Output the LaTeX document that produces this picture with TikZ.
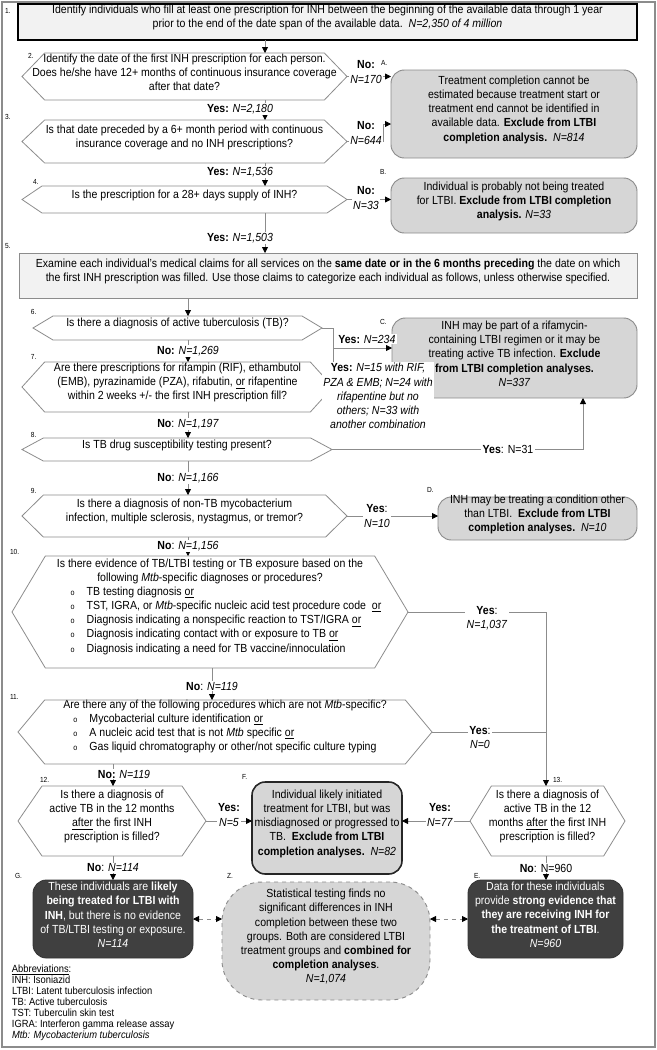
\documentclass[tikz,border=0pt]{standalone}
\usepackage{fontspec}
\setmainfont{Liberation Sans}[FakeStretch=0.9]
\usetikzlibrary{arrows.meta,fit,calc}
\definecolor{lineg}{HTML}{8C8C8C}
\definecolor{boxg}{HTML}{D6D6D6}
\definecolor{lightg}{HTML}{F2F2F2}
\definecolor{darkg}{HTML}{404040}
\newcommand\hexdraw[2]{\draw[hexline] (#1.west) -- ([xshift=#2]#1.north west) -- ([xshift=-#2]#1.north east) -- (#1.east) -- ([xshift=-#2]#1.south east) -- ([xshift=#2]#1.south west) -- cycle;}
\newcommand\bul{{\fontsize{6}{7}\selectfont o}}
\tikzset{
 every node/.style={font=\fontsize{8.8}{10.6}\selectfont, inner sep=0pt, outer sep=0pt},
 hexn/.style={align=center},
 hexline/.style={draw=lineg, line width=0.6pt},
 topbox/.style={draw=black, line width=1.1pt, fill=lightg, align=center},
 flatbox/.style={draw=lineg, line width=0.6pt, fill=lightg, align=center},
 exbox/.style={draw=lineg, line width=0.7pt, fill=boxg, rounded corners=10pt, align=center},
 fbox/.style={draw=black!85, line width=1.2pt, fill=boxg, rounded corners=10pt, align=center},
 darkbox/.style={draw=black!80, line width=0.6pt, fill=darkg, text=white, rounded corners=10pt, align=center},
 zbox/.style={draw=lineg, dashed, line width=0.7pt, fill=boxg, rounded corners=30pt, align=center},
 conn/.style={draw=lineg, line width=0.6pt, -{Triangle[black, length=4.5pt, width=4.5pt]}},
 plain/.style={draw=lineg, line width=0.6pt},
 dconn/.style={draw=lineg, dashed, line width=0.6pt, {Triangle[black, length=4.5pt, width=4.5pt]}-{Triangle[black, length=4.5pt, width=4.5pt]}},
 lbl/.style={fill=white, align=center, inner sep=1pt},
 num/.style={font=\fontsize{5.5}{6}\selectfont, anchor=west},
 abbr/.style={align=left, anchor=north west, font=\fontsize{7.8}{8.2}\selectfont},
}
\begin{document}
\begin{tikzpicture}[x=0.75pt,y=-0.75pt]
\useasboundingbox (0,0) rectangle (657,1050);
\draw[lineg, line width=0.8pt] (2,2) rectangle (655,1047);
% column coordinates
\coordinate (xa) at (265,0);
\coordinate (xb) at (188,0);
\coordinate (xc) at (212,0);
\coordinate (xd) at (113,0);
\coordinate (xr) at (546,0);
\coordinate (cx) at (583,0);
% 1
\node[num] at (5,11) {1.};
\node[topbox, fit={(18,4)(637,40)}] (b1) {Identify individuals who fill at least one prescription for INH between the beginning of the available data through 1 year\\prior to the end of the date span of the available data.~~\textit{N=2,350 of 4 million}};
% 2
\node[num] at (28,56) {2.};
\node[hexn, fit={(22,53)(347,100)}] (h2) {Identify the date of the first INH prescription for each person.\\Does he/she have 12+ months of continuous insurance coverage\\after that date?};
\hexdraw{h2}{17pt}
% A
\node[exbox, fit={(391,70)(637,158)}] (A) {Treatment completion cannot be\\estimated because treatment start or\\treatment end cannot be identified in\\available data. \textbf{Exclude from LTBI}\\\textbf{completion analysis.}~~\textit{N=814}};
% 3
\node[num] at (5,117) {3.};
\node[hexn, fit={(22,120)(347,163)}] (h3) {Is that date preceded by a 6+ month period with continuous\\insurance coverage and no INH prescriptions?};
\hexdraw{h3}{17pt}
% 4
\node[num] at (33,182) {4.};
\node[hexn, fit={(22,186)(347,213)}] (h4) {Is the prescription for a 28+ days supply of INH?};
\hexdraw{h4}{15pt}
% B
\node[num] at (380,172) {B.};
\node[exbox, fit={(391,178)(637,233)}] (B) {Individual is probably not being treated\\for LTBI. \textbf{Exclude from LTBI completion}\\\textbf{analysis.} \textit{N=33}};
% 5
\node[num] at (5,246) {5.};
\node[flatbox, fit={(19,253)(637,298)}] (b5) {Examine each individual's medical claims for all services on the \textbf{same date or in the 6 months preceding} the date on which\\the first INH prescription was filled. Use those claims to categorize each individual as follows, unless otherwise specified.};
% 6
\node[num] at (31,312) {6.};
\node[hexn, fit={(33,316)(322,340)}] (h6) {Is there a diagnosis of active tuberculosis (TB)?};
\hexdraw{h6}{15pt}
% C
\node[num] at (380,322) {C.};
\node[exbox, fit={(392,318)(637,398)}] (C) {INH may be part of a rifamycin-\\containing LTBI regimen or it may be\\treating active TB infection. \textbf{Exclude}\\\textbf{from LTBI completion analyses.}\\\textit{N=337}};
% 7
\node[num] at (31,357) {7.};
\node[hexn, fit={(22,362)(333,412)}] (h7) {Are there prescriptions for rifampin (RIF), ethambutol\\(EMB), pyrazinamide (PZA), rifabutin, \underline{or} rifapentine\\within 2 weeks +/- the first INH prescription fill?};
\hexdraw{h7}{17pt}
% 8
\node[num] at (31,435) {8.};
\node[hexn, fit={(22,438)(332,461)}] (h8) {Is TB drug susceptibility testing present?};
\hexdraw{h8}{16pt}
% 9
\node[num] at (31,491) {9.};
\node[hexn, fit={(22,495)(347,537)}] (h9) {Is there a diagnosis of non-TB mycobacterium\\infection, multiple sclerosis, nystagmus, or tremor?};
\hexdraw{h9}{16pt}
% D
\node[num] at (427,490) {D.};
\node[exbox, fit={(438,497)(637,540)}] (D) {INH may be treating a condition other\\than LTBI.~~\textbf{Exclude from LTBI}\\\textbf{completion analyses.}~~\textit{N=10}};
% 10
\node[num] at (10,552) {10.};
\node[hexn, fit={(12,556)(408,668)}] (h10) {Is there evidence of TB/LTBI testing or TB exposure based on the\\following \textit{Mtb}-specific diagnoses or procedures?\\\hspace*{24pt}\begin{tabular}{@{}l@{\hspace{9pt}}l@{}}
\bul&TB testing diagnosis \underline{or}\\
\bul&TST, IGRA, or \textit{Mtb}-specific nucleic acid test procedure code~~\underline{or}\\
\bul&Diagnosis indicating a nonspecific reaction to TST/IGRA \underline{or}\\
\bul&Diagnosis indicating contact with or exposure to TB \underline{or}\\
\bul&Diagnosis indicating a need for TB vaccine/innoculation
\end{tabular}};
\hexdraw{h10}{25pt}
% 11
\node[num] at (10,697) {11.};
\node[hexn, fit={(18,700)(432,764)}] (h11) {Are there any of the following procedures which are not \textit{Mtb}-specific?\\\begin{tabular}{@{}l@{\hspace{9pt}}l@{}}
\bul&Mycobacterial culture identification \underline{or}\\
\bul&A nucleic acid test that is not \textit{Mtb} specific \underline{or}\\
\bul&Gas liquid chromatography or other/not specific culture typing
\end{tabular}};
\hexdraw{h11}{20pt}
% 12
\node[num] at (40,780) {12.};
\node[hexn, fit={(18,786)(206,856)}] (h12) {Is there a diagnosis of\\active TB in the 12 months\\\underline{after} the first INH\\prescription is filled?};
\hexdraw{h12}{18pt}
% F
\node[num] at (242,777) {F.};
\node[fbox, fit={(252,782)(402,874)}] (F) {Individual likely initiated\\treatment for LTBI, but was\\misdiagnosed or progressed to\\TB.~~\textbf{Exclude from LTBI}\\\textbf{completion analyses.}~~\textit{N=82}};
% 13
\node[num] at (553,780) {13.};
\node[hexn, fit={(470,786)(625,856)}] (h13) {Is there a diagnosis of\\active TB in the 12\\months \underline{after} the first INH\\prescription is filled?};
\hexdraw{h13}{16pt}
% G, Z, E
\node[num] at (15,876) {G.};
\node[darkbox, fit={(33,880)(193,958)}] (G) {These individuals are \textbf{likely}\\\textbf{being treated for LTBI with}\\\textbf{INH}, but there is no evidence\\of TB/LTBI testing or exposure.\\\textit{N=114}};
\node[num] at (227,876) {Z.};
\node[zbox, fit={(222,882)(430,1000)}] (Z) {Statistical testing finds no\\significant differences in INH\\completion between these two\\groups. Both are considered LTBI\\treatment groups and \textbf{combined for}\\\textbf{completion analyses}.\\\textit{N=1,074}};
\node[num] at (474,876) {E.};
\node[darkbox, fit={(468,880)(623,958)}] (E) {Data for these individuals\\provide \textbf{strong evidence that}\\\textbf{they are receiving INH for}\\\textbf{the treatment of LTBI}.\\\textit{N=960}};
% abbreviations
\node[abbr] (ab) at (12,965) {\underline{Abbreviations}:\\INH: Isoniazid\\LTBI: Latent tuberculosis infection\\TB: Active tuberculosis\\TST: Tuberculin skin test\\IGRA: Interferon gamma release assay\\\textit{Mtb: Mycobacterium tuberculosis}};
% ---------- connectors ----------
\draw[conn] (b1.south -| xa) -- (h2.north -| xa);
\draw[conn] (h2.south -| xa) -- (h3.north -| xa);
\draw[conn] (h3.south -| xa) -- (h4.north -| xa);
\draw[conn] (h4.south -| xa) -- (b5.north -| xa);
\node[lbl] (y1) at (240,109) {\textbf{Yes:} \textit{N=2,180}};
\node[lbl] (y2) at (240,172) {\textbf{Yes:} \textit{N=1,536}};
\node[lbl] (y3) at (240,238) {\textbf{Yes:} \textit{N=1,503}};
\draw[conn] (h2.east) -- (h2.east -| A.west);
\node[lbl] (n1) at (366,72) {\textbf{No:}\\\textit{N=170}};
\coordinate (a3) at (383,124);
\draw[conn] (h3.east) -| (a3) -- (a3 -| A.west);
\node[lbl] (n2) at (366,133) {\textbf{No:}\\\textit{N=644}};
\draw[conn] (h4.east) -- (h4.east -| B.west);
\node[lbl] (n3) at (366,198) {\textbf{No:}\\\textit{N=33}};
\node[num] at (381,63) {A.};
\draw[conn] (b5.south -| xb) -- (h6.north -| xb);
\draw[conn] (h6.south -| xb) -- (h7.north -| xb);
\node[lbl] (n4) at (188,351) {\textbf{No:} \textit{N=1,269}};
\draw[conn] (h7.south -| xb) -- (h8.north -| xb);
\node[lbl] (n5) at (188,424) {\textbf{No}: \textit{N=1,197}};
\draw[conn] (h8.south -| xb) -- (h9.north -| xb);
\node[lbl] (n6) at (188,478) {\textbf{No}: \textit{N=1,166}};
\draw[conn] (h9.south -| xb) -- (h10.north -| xb);
\node[lbl] (n7) at (188,546) {\textbf{No}: \textit{N=1,156}};
% 6/7 -> C
\draw[plain] (h6.east) -| (h7.east);
\coordinate (br) at (333,348);
\draw[conn] (br) -- (br -| C.west);
\node[lbl, anchor=west] (y4) at (337,339) {\textbf{Yes:} \textit{N=234}};
\node[lbl] (y5) at (378,396) {\textbf{Yes:} \textit{N=15 with RIF,}\\\textit{PZA \& EMB; N=24 with}\\\textit{rifapentine but no}\\\textit{others; N=33 with}\\\textit{another combination}};
% 8 -> C
\draw[conn] (h8.east) -| (C.south -| cx);
\node[lbl] (y6) at (508,449.5) {\textbf{Yes}: N=31};
% 9 -> D
\draw[conn] (h9.east) -- (h9.east -| D.west);
\node[lbl] (y7) at (377,516) {\textbf{Yes}:\\\textit{N=10}};
% 10 -> 11
\draw[conn] (h10.south -| xc) -- (h11.north -| xc);
\node[lbl] (n8) at (212,686) {\textbf{No}: \textit{N=119}};
% 10, 11 -> 13
\draw[conn] (h10.east) -| (h13.north -| xr);
\draw[plain] (h11.east) -- (h11.east -| xr);
\node[lbl, anchor=north] (y8) at (487,605) {\textbf{Yes}:\\\textit{N=1,037}};
\node[lbl, anchor=north] (y9) at (480,725) {\textbf{Yes}:\\\textit{N=0}};
% 11 -> 12
\draw[conn] (h11.south -| xd) -- (h12.north -| xd);
\node[lbl] (n9) at (124,774) {\textbf{No:} \textit{N=119}};
% 12, 13 -> F
\draw[conn] (h12.east) -- (h12.east -| F.west);
\node[lbl] (y10) at (229,815) {\textbf{Yes:}\\\textit{N=5}};
\draw[conn] (h13.west) -- (h13.west -| F.east);
\node[lbl] (y11) at (440,815) {\textbf{Yes:}\\\textit{N=77}};
% 12 -> G, 13 -> E
\draw[conn] (h12.south -| xd) -- (G.north -| xd);
\node[lbl] (n10) at (113,868) {\textbf{No}: \textit{N=114}};
\draw[conn] (h13.south -| xr) -- (E.north -| xr);
\node[lbl] (n11) at (546,868) {\textbf{No}: N=960};
% dashed links
\draw[dconn] (G.east) -- (G.east -| Z.west);
\draw[dconn] (Z.east |- G.east) -- (G.east -| E.west);
\end{tikzpicture}
\end{document}
